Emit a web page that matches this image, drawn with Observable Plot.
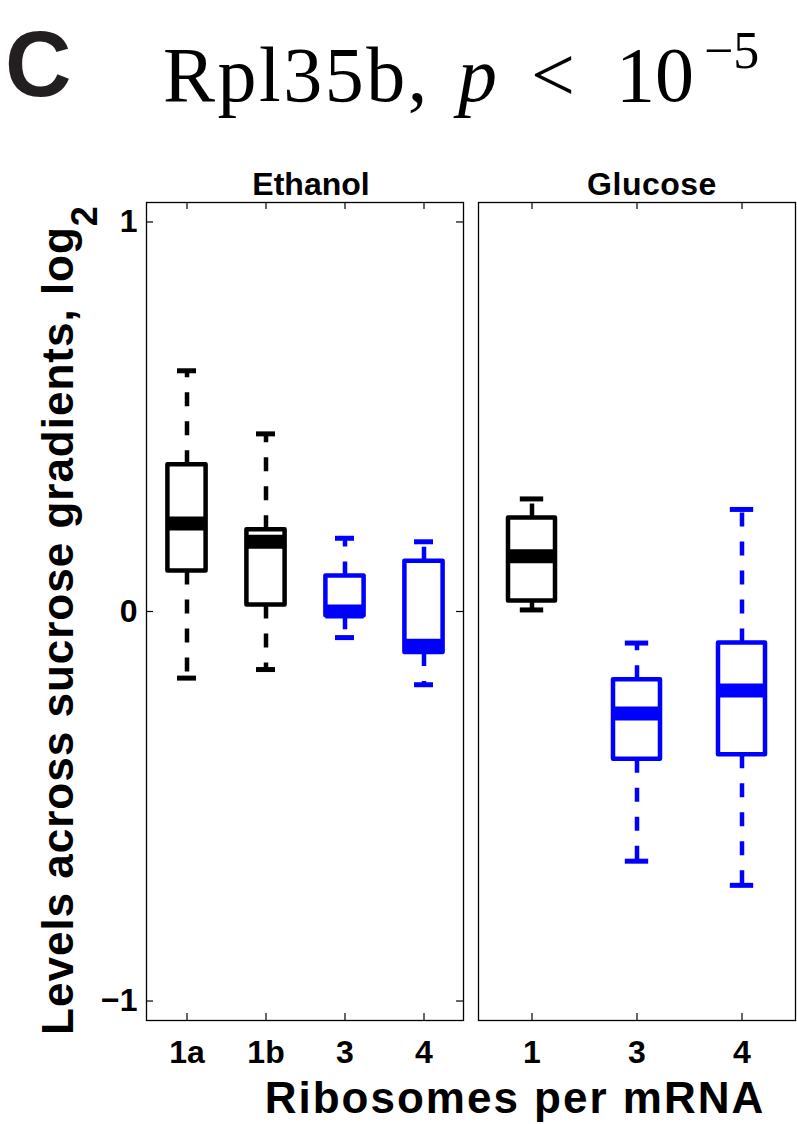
<!DOCTYPE html>
<html><head><meta charset="utf-8">
<script src="https://cdn.jsdelivr.net/npm/d3@7"></script>
<script src="https://cdn.jsdelivr.net/npm/@observablehq/plot@0.6"></script>
<style>
body{margin:0;background:#fff;}
#wrap{position:relative;width:797px;height:1124px;overflow:hidden;background:#fff;}
#wrap > svg{position:absolute;top:0;}
</style></head><body><div id="wrap"></div>
<script>
// ---- data ----
const ethanolCats   = ["1a", "1b", "3", "4"];
const ethanolGroup  = ["mono", "mono", "poly", "poly"];
const ethanolLow    = [-0.171, -0.149, -0.067, -0.188];
const ethanolQ1     = [0.104, 0.017, -0.011, -0.105];
const ethanolMedian = [0.226, 0.179, 0.000, -0.088];
const ethanolQ3     = [0.377, 0.210, 0.091, 0.129];
const ethanolHigh   = [0.618, 0.456, 0.188, 0.179];

const glucoseCats   = ["1", "3", "4"];
const glucoseGroup  = ["mono", "poly", "poly"];
const glucoseLow    = [0.004, -0.641, -0.703];
const glucoseQ1     = [0.027, -0.379, -0.368];
const glucoseMedian = [0.142, -0.262, -0.203];
const glucoseQ3     = [0.240, -0.175, -0.081];
const glucoseHigh   = [0.289, -0.081, 0.262];

const yTicks = [-1, 0, 1];
const groupNames = ["mono", "poly"];
const groupColors = ["#000000", "#0000ff"];

function rows(cats, groups, lo, q1, med, q3, hi) {
  return cats.map((c, i) => ({cat: c, group: groups[i], lo: lo[i], q1: q1[i], med: med[i], q3: q3[i], hi: hi[i]}));
}
const ethanolData = rows(ethanolCats, ethanolGroup, ethanolLow, ethanolQ1, ethanolMedian, ethanolQ3, ethanolHigh);
const glucoseData = rows(glucoseCats, glucoseGroup, glucoseLow, glucoseQ1, glucoseMedian, glucoseQ3, glucoseHigh);

// ---- layout ----
const FONT = '"Liberation Sans", Arial, Helvetica, sans-serif';
const H = 1124, TOP = 202, BOTTOM = 1020, FRAME_H = BOTTOM - TOP, FRAME_W = 317, TICK = 7;
const fmtY = d => d < 0 ? "\u2212" + Math.abs(d) : String(d);

function panel({data, cats, left, width, marginLeft, marginRight, boxInset, capInset, showY}) {
  const common = {x: "cat", stroke: "group"};
  const marks = [
    Plot.ruleX(data, {...common, y1: "q3", y2: "hi", strokeWidth: 4.5, strokeDasharray: "14,15"}),
    Plot.ruleX(data, {...common, y1: "q1", y2: "lo", strokeWidth: 4.5, strokeDasharray: "14,15"}),
    Plot.tickY(data, {...common, y: "hi", strokeWidth: 5, insetLeft: capInset, insetRight: capInset}),
    Plot.tickY(data, {...common, y: "lo", strokeWidth: 5, insetLeft: capInset, insetRight: capInset}),
    Plot.barY(data, {...common, y1: "q1", y2: "q3", fill: "none", strokeWidth: 4.5, strokeLinejoin: "round", insetLeft: boxInset, insetRight: boxInset}),
    Plot.tickY(data, {...common, y: "med", strokeWidth: 14, insetLeft: boxInset, insetRight: boxInset}),
    Plot.frame({stroke: "#000", strokeWidth: 1.3}),
    Plot.tickX(cats, {x: d => d, insetTop: FRAME_H - TICK, stroke: "#000", strokeWidth: 1.2}),
    Plot.tickX(cats, {x: d => d, insetBottom: FRAME_H - TICK, stroke: "#000", strokeWidth: 1.2}),
    Plot.axisX({tickSize: 0, tickPadding: 20, fontSize: 32, fontWeight: "bold", label: null})
  ];
  if (showY) {
    marks.push(
      Plot.tickY(yTicks, {y: d => d, insetRight: FRAME_W - TICK, stroke: "#000", strokeWidth: 1.2}),
      Plot.tickY(yTicks, {y: d => d, insetLeft: FRAME_W - TICK, stroke: "#000", strokeWidth: 1.2}),
      Plot.axisY({ticks: yTicks, tickFormat: fmtY, tickSize: 0, tickPadding: 9, fontSize: 32, fontWeight: "bold", label: null})
    );
  }
  const svg = Plot.plot({
    width, height: H,
    marginTop: TOP, marginBottom: H - BOTTOM, marginLeft, marginRight,
    style: {background: "none", fontFamily: FONT, color: "#000", overflow: "visible"},
    x: {type: "band", domain: cats, padding: 0},
    y: {domain: [-1.05, 1.05], axis: showY ? undefined : null},
    color: {domain: groupNames, range: groupColors},
    marks
  });
  svg.style.left = left + "px";
  return svg;
}

const wrap = document.getElementById("wrap");
wrap.appendChild(panel({data: ethanolData, cats: ethanolCats, left: 0, width: 470, marginLeft: 146, marginRight: 7, boxInset: 20.4, capInset: 30, showY: true}));
wrap.appendChild(panel({data: glucoseData, cats: glucoseCats, left: 470, width: 327, marginLeft: 8, marginRight: 2, boxInset: 29, capInset: 40.8, showY: false}));

// ---- titles & labels ----
const ns = "http://www.w3.org/2000/svg";
const ov = document.createElementNS(ns, "svg");
ov.setAttribute("width", 797); ov.setAttribute("height", H);
ov.style.left = "0px"; ov.style.pointerEvents = "none";
ov.innerHTML = `
<g font-family='${FONT}' font-weight="bold" fill="#000">
  <text x="5" y="96" font-size="92" fill="#231f20">C</text>
  <text x="311" y="195" font-size="32" text-anchor="middle">Ethanol</text>
  <text x="652" y="195" font-size="32" text-anchor="middle" letter-spacing="0.5">Glucose</text>
  <text x="515" y="1113" font-size="44" text-anchor="middle" letter-spacing="2">Ribosomes per mRNA</text>
  <text transform="translate(73,620) rotate(-90)" font-size="44" text-anchor="middle" letter-spacing="1">Levels across sucrose gradients, log<tspan font-size="36" dy="24">2</tspan></text>
</g>
<g font-family='"Liberation Serif", "Times New Roman", serif' fill="#000">
  <text x="163" y="101" font-size="78" letter-spacing="2.5">Rpl35b,</text>
  <text x="458" y="101" font-size="78" font-style="italic">p</text>
  <text x="531" y="101" font-size="78">&lt;</text>
  <text x="616" y="101" font-size="78">10</text>
  <text x="704" y="68" font-size="52">&#8722;5</text>
</g>`;
wrap.appendChild(ov);
</script>
</body></html>
